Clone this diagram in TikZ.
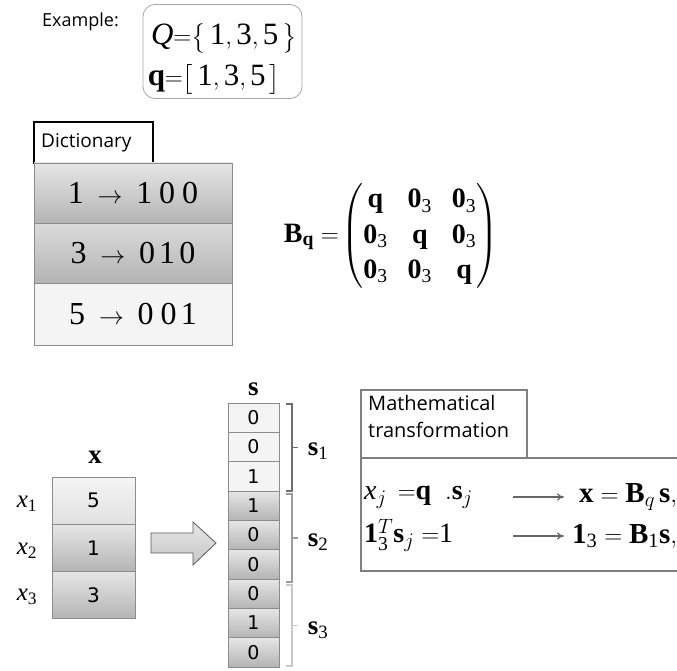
\documentclass[tikz,border=0pt]{standalone}
\usepackage{amsmath}
\usepackage{fontspec}
\setmainfont{Liberation Serif}
\setsansfont{Open Sans}
\newfontfamily\cellfont{DejaVu Sans}
\usetikzlibrary{arrows.meta}
\newcommand{\rmd}[1]{\mathrm{#1}}
\definecolor{bord}{HTML}{8C8C8C}
\definecolor{lite}{HTML}{F4F4F4}
\definecolor{gtop}{HTML}{E6E6E6}
\definecolor{gbot}{HTML}{B4B4B4}
\definecolor{brA}{HTML}{6E6E6E}
\definecolor{brB}{HTML}{9C9C9C}
\definecolor{brC}{HTML}{C8C8C8}
\definecolor{boxbord}{HTML}{7F7F7F}
\tikzset{
  lightcell/.style={draw=bord, fill=lite, inner sep=0pt},
  graycell/.style={draw=bord, top color=gtop, bottom color=gbot, inner sep=0pt},
  scell/.style={minimum width=51pt, minimum height=29.33pt, font=\cellfont\fontsize{19}{22}\selectfont},
  xcell/.style={minimum width=83pt, minimum height=47pt, font=\cellfont\fontsize{20}{23}\selectfont},
  dcell/.style={minimum width=198pt, minimum height=60pt, font=\fontsize{32}{36}\selectfont},
  bracketline/.style={line width=1.8pt},
  lbl/.style={inner sep=0pt, font=\sffamily\fontsize{19}{22}\selectfont},
  mth/.style={inner sep=0pt},
}
\begin{document}
\begin{tikzpicture}[x=1pt,y=-1pt]
\useasboundingbox (0,0) rectangle (677,671);
% Example
\node[lbl, anchor=west, font=\sffamily\fontsize{18}{21}\selectfont] (exl) at (42,22) {Example:};
\node[draw=gray!70, line width=0.8pt, rounded corners=12pt, minimum width=159pt, minimum height=94pt] (ex) at (222.5,51.5) {};
\node[mth] (Qset) at (224,38) {\fontsize{31}{35}\selectfont $\mathit{Q}{=}\bigl\{\,\rmd{1},\rmd{3},\rmd{5}\,\bigr\}$};
\node[mth] (qvec) at (214,79) {\fontsize{31}{35}\selectfont $\mathbf{q}{=}\bigl[\,\rmd{1},\rmd{3},\rmd{5}\,\bigr]$};
% Dictionary
\node[draw=black, line width=1.5pt, fill=white, minimum width=119pt, minimum height=41pt] (dtab) at (93.5,142.5) {};
\node[lbl, anchor=west] (dtxt) at (41,143) {Dictionary};
\node[graycell, dcell] (d1) at (133,193) {$\rmd{1}\;\rightarrow\;\rmd{1}\;\rmd{0}\;\rmd{0}$};
\node[graycell, dcell, top color=gtop!95!black] (d2) at (133,253) {$\rmd{3}\;\rightarrow\;\rmd{0}\,\rmd{1}\,\rmd{0}$};
\node[lightcell, dcell, minimum height=62pt] (d3) at (133,314) {$\rmd{5}\;\rightarrow\;\rmd{0}\;\rmd{0}\,\rmd{1}$};
% Matrix
\node[mth] (Bq) at (391,236) {\fontsize{28}{32}\selectfont\renewcommand{\arraystretch}{1.1}\setlength{\arraycolsep}{10pt}$\mathbf{B}_{\mathbf{q}}=\!\begin{pmatrix}\mathbf{q}&\mathbf{0}_{\rmd{3}}&\mathbf{0}_{\rmd{3}}\\ \mathbf{0}_{\rmd{3}}&\mathbf{q}&\mathbf{0}_{\rmd{3}}\\ \mathbf{0}_{\rmd{3}}&\mathbf{0}_{\rmd{3}}&\mathbf{q}\end{pmatrix}$};
% x vector
\node[mth] (xl) at (95,457) {\fontsize{27}{30}\selectfont $\mathbf{x}$};
\node[lightcell, xcell, top color=white!96!black, bottom color=lite!92!black] (x1) at (93.5,500.5) {5};
\node[graycell, xcell] (x2) at (93.5,548) {1};
\node[graycell, xcell] (x3) at (93.5,595) {3};
\node[mth] (x1l) at (27,504) {\fontsize{25}{28}\selectfont $\mathit{x}_{\rmd{1}}$};
\node[mth] (x2l) at (27,551) {\fontsize{25}{28}\selectfont $\mathit{x}_{\rmd{2}}$};
\node[mth] (x3l) at (27,597) {\fontsize{25}{28}\selectfont $\mathit{x}_{\rmd{3}}$};
% block arrow
\draw[draw=black!65, top color=white!90!black, bottom color=black!22, line width=0.8pt]
  (151,533) -- (193,533) -- (193,522) -- (216,543) -- (193,565) -- (193,553) -- (151,553) -- cycle;
% s vector
\node[mth] (sl) at (253.5,389) {\fontsize{27}{30}\selectfont $\mathbf{s}$};
\node[lightcell, scell] (s1) at (253.5,417.67) {0};
\node[lightcell, scell] (s2) at (253.5,447.00) {0};
\node[lightcell, scell] (s3) at (253.5,476.33) {1};
\node[graycell, scell] (s4) at (253.5,505.67) {1};
\node[graycell, scell] (s5) at (253.5,535.00) {0};
\node[graycell, scell] (s6) at (253.5,564.33) {0};
\node[graycell, scell] (s7) at (253.5,593.67) {0};
\node[graycell, scell] (s8) at (253.5,623.00) {1};
\node[graycell, scell] (s9) at (253.5,652.33) {0};
% brackets
\draw[bracketline, brA] (286,404) -- (292,404) -- (292,491) -- (286,491) (292,447.5) -- (298,447.5);
\draw[bracketline, brB] (286,494) -- (292,494) -- (292,582) -- (286,582) (292,538) -- (298,538);
\draw[bracketline, brC] (286,585) -- (292,585) -- (292,666) -- (286,666) (292,625.5) -- (298,625.5);
\node[mth] (sb1) at (318,451) {\fontsize{27}{30}\selectfont $\mathbf{s}_{\rmd{1}}$};
\node[mth] (sb2) at (318,542) {\fontsize{27}{30}\selectfont $\mathbf{s}_{\rmd{2}}$};
\node[mth] (sb3) at (318,630) {\fontsize{27}{30}\selectfont $\mathbf{s}_{\rmd{3}}$};
% Mathematical transformation
\draw[boxbord, line width=1.6pt, fill=white] (361,458) rectangle (690,571);
\draw[boxbord, line width=1.6pt, fill=white] (361,390) rectangle (527,458);
\node[lbl, anchor=north west, align=left, font=\sffamily\fontsize{20}{27}\selectfont] (mt) at (368,395) {Mathematical\\transformation};
\node[mth, anchor=west] (e1l) at (364,497) {\fontsize{28}{31}\selectfont $\mathit{x}_j\;\,{=}\mathbf{q}\;\;.\mathbf{s}_j$};
\node[mth, anchor=west] (e2l) at (364,535) {\fontsize{28}{31}\selectfont $\mathbf{1}_{\rmd{3}}^T\mathbf{s}_j\;{=}\rmd{1}$};
\node[mth, anchor=west] (e1r) at (579,497) {\fontsize{29}{33}\selectfont $\mathbf{x}=\mathbf{B}_q\,\mathbf{s},$};
\node[mth, anchor=west] (e2r) at (572,536) {\fontsize{29}{33}\selectfont $\mathbf{1}_{\rmd{3}}=\mathbf{B}_{\rmd{1}}\mathbf{s},$};
\coordinate (a1s) at (513,497);
\coordinate (a1e) at (564,497);
\coordinate (a2s) at (513,536);
\coordinate (a2e) at (564,536);
\draw[black!60, line width=1.2pt, -{To[length=7pt,width=7pt]}] (a1s) -- (a1e);
\draw[black!60, line width=1.2pt, -{To[length=7pt,width=7pt]}] (a2s) -- (a2e);
\end{tikzpicture}
\end{document}
